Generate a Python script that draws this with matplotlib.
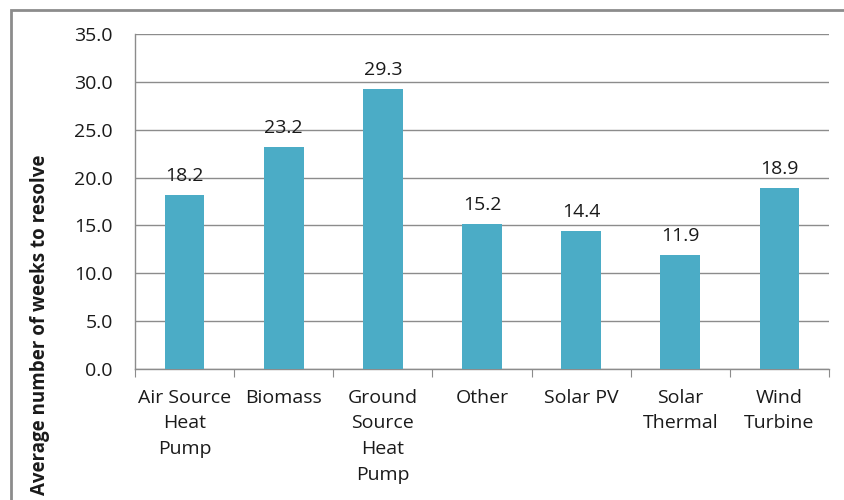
import numpy as np
import matplotlib.pyplot as plt
from matplotlib.patches import Rectangle

categories = ['Air Source\nHeat\nPump', 'Biomass', 'Ground\nSource\nHeat\nPump',
              'Other', 'Solar PV', 'Solar\nThermal', 'Wind\nTurbine']
weeks = [18.2, 23.2, 29.3, 15.2, 14.4, 11.9, 18.9]
yticks = [0, 5, 10, 15, 20, 25, 30, 35]

plt.rcParams['font.family'] = ['Open Sans', 'DejaVu Sans']

fig = plt.figure(figsize=(8.44, 5.0), dpi=100)
ax = fig.add_axes([0.16, 0.262, 0.8222, 0.670])

x = np.arange(len(weeks))
ax.bar(x, weeks, width=0.4, color='#4BACC6', zorder=3)
for xi, v in zip(x, weeks):
    ax.annotate('%.1f' % v, (xi, v), xytext=(0, 7), textcoords='offset points',
                ha='center', va='bottom', fontsize=14, color='#1a1a1a')

ax.set_xlim(-0.5, len(weeks) - 0.5)
ax.set_ylim(0, 35)
ax.set_yticks(yticks)
ax.set_yticklabels(['%.1f' % t for t in yticks], fontsize=14, color='#1a1a1a')
ax.yaxis.grid(True, color='#8c8c8c', linewidth=1, zorder=0)
ax.tick_params(axis='y', length=0, pad=16)

# category labels centred under each bar, ticks on the boundaries
ax.set_xticks(np.arange(len(weeks) + 1) - 0.5)
ax.set_xticklabels([])
ax.tick_params(axis='x', direction='out', length=6, color='#8c8c8c')
for xi, c in zip(x, categories):
    ax.text(xi, -2.05, c, ha='center', va='top', fontsize=14, color='#1a1a1a',
            linespacing=1.56, transform=ax.transData)

for s in ['top', 'right']:
    ax.spines[s].set_visible(False)
for s in ['left', 'bottom']:
    ax.spines[s].set_color('#8c8c8c')
    ax.spines[s].set_linewidth(1)

ax.set_ylabel('Average number of weeks to resolve', fontsize=13.5,
              fontweight='bold', color='#1a1a1a')
ax.yaxis.set_label_coords(-0.122, 0.131)

# chart area border
fig.patches.append(Rectangle((11 / 844, -0.1), 1.2, 1 - 10 / 500 + 0.1,
                             transform=fig.transFigure, fill=False,
                             edgecolor='#8c8c8c', linewidth=2))

plt.savefig('out.png')
